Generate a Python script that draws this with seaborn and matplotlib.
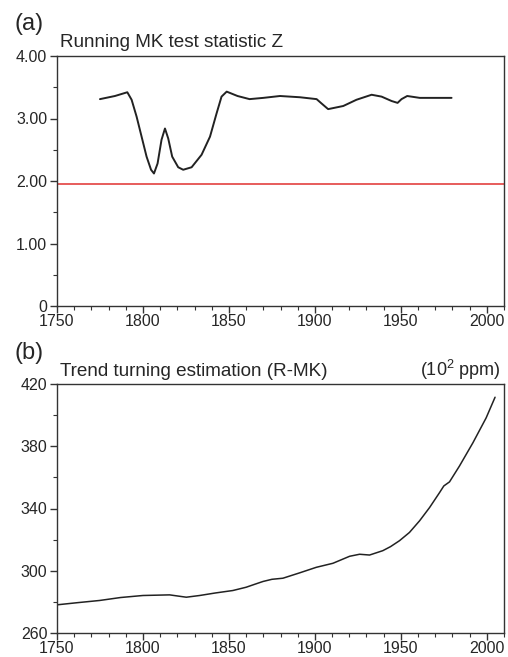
import matplotlib
matplotlib.use("Agg")
import matplotlib.pyplot as plt
import seaborn as sns
import pandas as pd
from matplotlib.ticker import MultipleLocator

# ---- data ----
z_years = [1775.0, 1783.7, 1790.9, 1793.4, 1796.3, 1799.2, 1802.1, 1804.7, 1806.4, 1808.5,
           1810.8, 1812.8, 1814.7, 1817.0, 1820.5, 1823.4, 1828.3, 1834.1, 1839.0, 1842.8,
           1845.7, 1848.7, 1855.0, 1862.0, 1870.0, 1879.7, 1891.3, 1901.0, 1903.9, 1907.7,
           1916.5, 1924.2, 1933.0, 1938.8, 1944.6, 1948.1, 1950.4, 1953.7, 1961.0, 1979.5]
z_vals = [3.31, 3.36, 3.42, 3.30, 3.03, 2.71, 2.39, 2.18, 2.12, 2.28,
          2.66, 2.84, 2.68, 2.39, 2.22, 2.18, 2.22, 2.42, 2.71, 3.08,
          3.35, 3.43, 3.36, 3.31, 3.33, 3.36, 3.34, 3.31, 3.24, 3.15,
          3.20, 3.30, 3.38, 3.35, 3.28, 3.25, 3.31, 3.36, 3.33, 3.33]
z_threshold = 1.96

c_years = [1750, 1762, 1774.8, 1787, 1800, 1815.5, 1820, 1825.2, 1833, 1842, 1852.3, 1860, 1865,
           1869.8, 1875, 1881.4, 1891, 1900.8, 1910.5, 1920.2, 1926, 1931.8, 1939.5, 1944, 1949.2,
           1955, 1960.9, 1966.7, 1972.5, 1975, 1978.3, 1984.1, 1991.9, 1999.6, 2004.8]
c_vals = [278.1, 279.5, 280.9, 282.8, 284.1, 284.5, 283.8, 283.0, 284.1, 285.7, 287.3, 289.4, 291.3,
          293.1, 294.5, 295.2, 298.6, 302.2, 304.8, 309.3, 310.6, 310.1, 312.9, 315.5, 319.3,
          324.6, 332.1, 340.6, 350.2, 354.5, 357.1, 367.3, 382.2, 398.2, 411.5]

xticks = [1750, 1800, 1850, 1900, 1950, 2000]
a_yticks = [0, 1, 2, 3, 4]
a_yticklabels = ["0", "1.00", "2.00", "3.00", "4.00"]
b_yticks = [260, 300, 340, 380, 420]

title_a = "Running MK test statistic Z"
title_b = "Trend turning estimation (R-MK)"
unit_b = "(10$^{2}$ ppm)"

# ---- style ----
sns.set_style("ticks")
plt.rcParams["font.family"] = ["Liberation Sans", "DejaVu Sans"]
plt.rcParams["mathtext.fontset"] = "custom"
plt.rcParams["mathtext.rm"] = "Liberation Sans"

fig = plt.figure(figsize=(5.08, 6.57), dpi=100)
ax_a = fig.add_axes([57/508, 1-306/657, 447/508, 250/657])
ax_b = fig.add_axes([57/508, 1-633/657, 447/508, 249/657])

dfa = pd.DataFrame({"year": z_years, "z": z_vals})
dfb = pd.DataFrame({"year": c_years, "c": c_vals})

sns.lineplot(data=dfa, x="year", y="z", ax=ax_a, color="#222222", linewidth=1.4)
ax_a.axhline(z_threshold, color="#e0302f", linewidth=1.1)
sns.lineplot(data=dfb, x="year", y="c", ax=ax_b, color="#222222", linewidth=1.1)

for ax in (ax_a, ax_b):
    ax.set_xlim(1750, 2010)
    ax.set_xticks(xticks)
    ax.xaxis.set_minor_locator(MultipleLocator(10))
    ax.set_xlabel("")
    ax.set_ylabel("")
    for sp in ax.spines.values():
        sp.set_color("#333333")
        sp.set_linewidth(1.0)
    ax.tick_params(which="major", direction="out", length=5, width=1.0, labelsize=11.5,
                   color="#333333", pad=2)
    ax.tick_params(which="minor", direction="out", length=3, width=0.8, color="#333333")
    ax.tick_params(top=False, right=False, which="both")
    ax.tick_params(axis="x", which="major", pad=0.5)

ax_a.set_ylim(0, 4)
ax_a.set_yticks(a_yticks)
ax_a.set_yticklabels(a_yticklabels)
ax_a.yaxis.set_minor_locator(MultipleLocator(0.5))

ax_b.set_ylim(260, 420)
ax_b.set_yticks(b_yticks)
ax_b.yaxis.set_minor_locator(MultipleLocator(20))

fig.text(14/508, 1-24/657, "(a)", fontsize=17, ha="left", va="center")
fig.text(60/508, 1-47/657, title_a, fontsize=13.6, ha="left", va="baseline")
fig.text(14/508, 1-353/657, "(b)", fontsize=17, ha="left", va="center")
fig.text(60/508, 1-376/657, title_b, fontsize=13.6, ha="left", va="baseline")
fig.text(501/508, 1-376/657, unit_b, fontsize=13, ha="right", va="baseline")

fig.savefig("out.png", dpi=100)
